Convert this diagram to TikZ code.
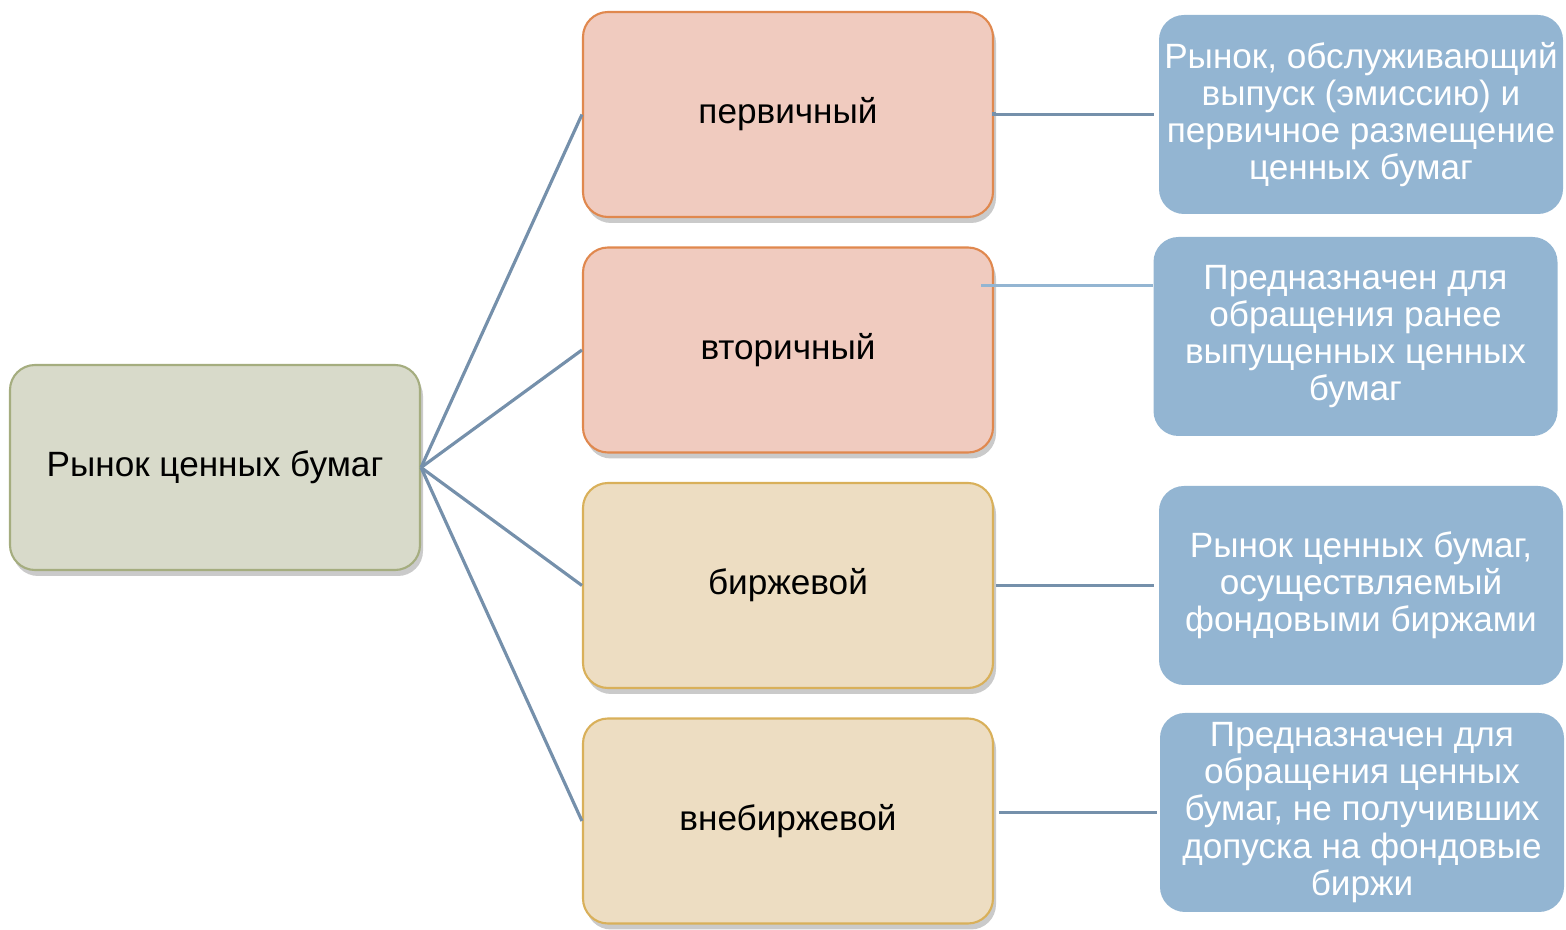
\documentclass[tikz,border=0pt]{standalone}
\usepackage{fontspec}
\setmainfont{Liberation Sans}
\usepackage{tikz}
\usetikzlibrary{positioning,shadows}
\definecolor{rootfill}{HTML}{D8DACA}
\definecolor{rootline}{HTML}{A5AD7F}
\definecolor{pinkfill}{HTML}{F0CBBF}
\definecolor{pinkline}{HTML}{E0884E}
\definecolor{sandfill}{HTML}{EDDDC2}
\definecolor{sandline}{HTML}{D9B05A}
\definecolor{infofill}{HTML}{93B5D2}
\definecolor{edgecol}{HTML}{7590AB}
\definecolor{faintcol}{HTML}{93B5D2}
\tikzstyle{shade} = [drop shadow={shadow xshift=0.03cm, shadow yshift=-0.06cm, opacity=0.35, fill=black!60}]
\tikzstyle{rootbox} = [rectangle, rounded corners=0.25cm, draw=rootline, line width=0.6pt, fill=rootfill, shade, minimum width=4.1cm, minimum height=2.05cm, text centered]
\tikzstyle{pinkbox} = [rectangle, rounded corners=0.25cm, draw=pinkline, line width=0.6pt, fill=pinkfill, shade, minimum width=4.1cm, minimum height=2.05cm, text centered]
\tikzstyle{sandbox} = [rectangle, rounded corners=0.25cm, draw=sandline, line width=0.6pt, fill=sandfill, shade, minimum width=4.1cm, minimum height=2.05cm, text centered]
\tikzstyle{infobox} = [rectangle, rounded corners=0.25cm, draw=none, fill=infofill, text=white, minimum width=4.04cm, minimum height=1.99cm, align=center, inner sep=0pt]
\tikzstyle{branch} = [draw=edgecol, line width=0.9pt]
\tikzstyle{faint} = [draw=faintcol, line width=0.6pt]

\begin{document}
\begin{tikzpicture}[auto, font=\fontsize{10}{10.6}\selectfont]
	\useasboundingbox (0,0) rectangle (15.66,-9.30);

	% place nodes
	\node [rootbox] (R0) at (2.15,-4.675) {Рынок ценных бумаг};
	\node [pinkbox] (N1) at (7.88,-1.145) {первичный};
	\node [pinkbox, below of=N1, node distance=2.355cm] (N2) {вторичный};
	\node [sandbox, below of=N2, node distance=2.355cm] (N3) {биржевой};
	\node [sandbox, below of=N3, node distance=2.355cm] (N4) {внебиржевой};

	\node [infobox] (I1) at (13.61,-1.145)  {Рынок, обслуживающий\\выпуск (эмиссию) и\\первичное размещение\\ценных бумаг};
	\node [infobox] (I2) at (13.555,-3.365) {Предназначен для\\обращения ранее\\выпущенных ценных\\бумаг};
	\node [infobox] (I3) at (13.61,-5.855)  {Рынок ценных бумаг,\\осуществляемый\\фондовыми биржами};
	\node [infobox] (I4) at (13.62,-8.125)  {Предназначен для\\обращения ценных\\бумаг, не получивших\\допуска на фондовые\\биржи};

	\coordinate [above left=0.645cm and 0.13cm of N2.east] (C2);

	% draw edges
	\path [branch] (R0.east) -- (N1.west);
	\path [branch] (R0.east) -- (N2.west);
	\path [branch] (R0.east) -- (N3.west);
	\path [branch] (R0.east) -- (N4.west);

	\path [branch, shorten <=0.02cm, shorten >=0.04cm] (N1.east) -- (I1.west -| N1.east) -- (I1.west);
	\path [faint] (C2) -- (C2 -| I2.west);
	\path [branch, shorten <=0.02cm, shorten >=0.04cm] (I3.west -| N3.east) -- (I3.west);
	\path [branch, shorten <=0.05cm, shorten >=0.02cm] (I4.west -| N4.east) -- (I4.west);
\end{tikzpicture}
\end{document}
